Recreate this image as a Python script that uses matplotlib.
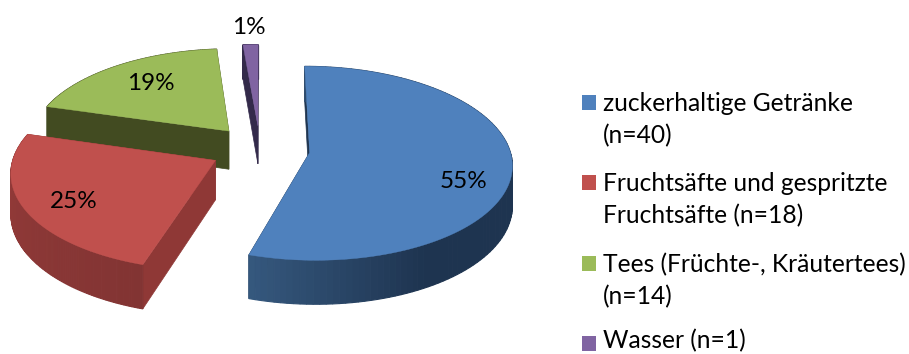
import matplotlib
matplotlib.use('Agg')
import matplotlib.pyplot as plt
import numpy as np

labels = ['zuckerhaltige Getränke\n(n=40)', 'Fruchtsäfte und gespritzte\nFruchtsäfte (n=18)',
          'Tees (Früchte-, Kräutertees)\n(n=14)', 'Wasser (n=1)']
counts = [40, 18, 14, 1]

colors = ['#4F81BD', '#C0504D', '#9BBB59', '#8064A2']
cut_colors = ['#1F3550', '#8F3836', '#424B21', '#332A4A']
wall_light = ['#36597F', '#983C3A', '#424B21', '#332A4A']
wall_dark = ['#1E3450', '#823433', '#424B21', '#332A4A']

# projection of the pie plane to pixels
cx, cy = 260, 149
rx, ry = 200, 95
persp = 0.11
depth = 39
explode = 0.25
steps = 120


def project(x, y, drop=0.0):
    w = 1 + persp * y
    return cx + rx * x / w, cy - ry * y / w + drop * depth / w


def shade(a, b, f):
    a = np.array(matplotlib.colors.to_rgb(a))
    b = np.array(matplotlib.colors.to_rgb(b))
    return a + (b - a) * f


fig = plt.figure(figsize=(9.09, 3.54), dpi=100)
ax = fig.add_axes([0, 0, 1, 1])
ax.set_xlim(0, 909)
ax.set_ylim(354, 0)
ax.axis('off')

total = sum(counts)
sweeps = [c / total * 2 * np.pi for c in counts]
starts = np.pi / 2 - np.cumsum([0] + sweeps[:-1])

# back to front: green, purple, red, blue
for i in [2, 3, 1, 0]:
    a0 = starts[i]
    a1 = a0 - sweeps[i]
    mid = (a0 + a1) / 2
    ox, oy = explode * np.cos(mid), explode * np.sin(mid)
    t = np.linspace(a0, a1, steps)
    xs = ox + np.cos(t)
    ys = oy + np.sin(t)

    # cut faces
    for ex, ey in [(xs[0], ys[0]), (xs[-1], ys[-1])]:
        p = [project(ox, oy), project(ex, ey), project(ex, ey, 1), project(ox, oy, 1)]
        ax.fill(*zip(*p), color=cut_colors[i], lw=0.5, zorder=1)

    # curved wall, shaded strip by strip
    order = np.argsort(-ys[:-1])
    for j in order:
        if i == 0:
            c = shade(wall_dark[i], wall_light[i], np.clip((-np.cos(t[j]) + 0.5) / 0.8, 0, 1))
        else:
            c = shade(wall_dark[i], wall_light[i], j / steps)
        p = [project(xs[j], ys[j]), project(xs[j + 1], ys[j + 1]),
             project(xs[j + 1], ys[j + 1], 1), project(xs[j], ys[j], 1)]
        ax.fill(*zip(*p), facecolor=c, edgecolor=c, lw=0.8, zorder=1)

    # top
    px, py = project(np.r_[ox, xs], np.r_[oy, ys])
    ax.fill(px, py, color=colors[i], lw=0.3, zorder=1)

plt.rcParams['font.family'] = 'Lato'
pct_pos = [(464, 181), (74, 201), (151, 84), (249, 27)]
for c, (x, y) in zip(counts, pct_pos):
    ax.text(x, y, '%d%%' % round(c / total * 100), fontsize=17.5, color='black',
            ha='center', va='center', zorder=5)

leg_y = [102, 182, 263, 343]
text_y = [103.5, 183.5, 264.5, 341]
for lab, col, y, ty in zip(labels, colors, leg_y, text_y):
    ax.fill([582, 596, 596, 582], [y - 7, y - 7, y + 8, y + 8], color=col, lw=0)
    for k, line in enumerate(lab.split('\n')):
        ax.text(603, ty + k * 32.5, line, fontsize=17.7, color='black', ha='left', va='center')

fig.savefig('out.png', dpi=100)
